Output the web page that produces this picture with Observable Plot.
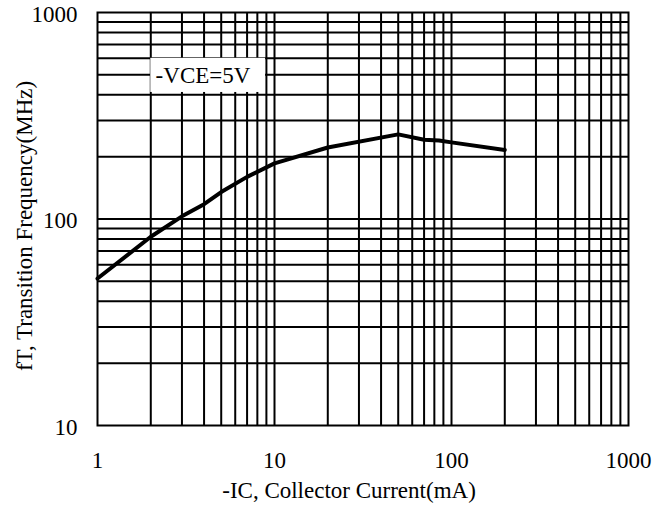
<!DOCTYPE html>
<html><head><meta charset="utf-8">
<script src="https://cdn.jsdelivr.net/npm/d3@7"></script>
<script src="https://cdn.jsdelivr.net/npm/@observablehq/plot@0.6"></script>
<style>
body{margin:0;background:#fff}
#chart svg text{font-family:'Liberation Serif','Times New Roman',serif !important;font-size:23px !important;fill:#000}
#chart svg text.vce{font-size:22px !important}
</style>
</head><body><div id="chart"></div>
<script>
const currentMA = [1, 2, 3, 4, 5, 7, 10, 20, 50, 70, 85, 100, 200];
const freqMHz   = [51.5, 82, 103, 118, 135, 160, 186, 222, 257, 242, 240, 235, 216];
const xTicks = [1, 10, 100, 1000];
const yTicks = [10, 100, 1000];
const gridX = [2,3,4,5,6,7,8,9,10,20,30,40,50,60,70,80,90,100,200,300,400,500,600,700,800,900];
const gridY = [20,30,40,50,60,70,80,90,100,200,300,400,500,600,700,800,900];
const label = ["-VCE=5V"];
const labelBox = [{x1: 2.0, x2: 8.9, y1: 410, y2: 600, tx: 2.13, ty: 495}];

const data = currentMA.map((x, i) => ({x, y: freqMHz[i]}));

const chart = Plot.plot({
  width: 664, height: 511,
  marginLeft: 97, marginRight: 36, marginTop: 12, marginBottom: 86,
  style: {fontFamily: "'Liberation Serif', serif", fontSize: "23px", color: "#000", background: "#fff"},
  x: {type: "log", domain: [1, 1000], label: null},
  y: {type: "log", domain: [10, 1000], label: null},
  marks: [
    Plot.ruleX(gridX, {stroke: "#000", strokeWidth: 2}),
    Plot.ruleY(gridY, {stroke: "#000", strokeWidth: 2}),
    Plot.rect(labelBox, {x1: "x1", x2: "x2", y1: "y1", y2: "y2", fill: "#fff"}),
    Plot.text(labelBox, {x: "tx", y: "ty", text: () => label[0], textAnchor: "start", fill: "#000", className: "vce"}),
    Plot.frame({stroke: "#000", strokeWidth: 2}),
    Plot.line(data, {x: "x", y: "y", stroke: "#000", strokeWidth: 4, strokeLinejoin: "round"}),
    Plot.axisX({ticks: xTicks, tickFormat: d => String(d), tickSize: 0, tickPadding: 26}),
    Plot.axisY({ticks: yTicks, tickFormat: d => String(d), tickSize: 0, tickPadding: 20, dy: 2}),
    Plot.text(["-IC, Collector Current(mA)"], {frameAnchor: "bottom", dx: -14, dy: 72, fill: "#000"}),
    Plot.text(["fT, Transition Frequency(MHz)"], {frameAnchor: "left", textAnchor: "middle", dx: -73, dy: 7, rotate: -90, fill: "#000"})
  ]
});
document.getElementById("chart").appendChild(chart);
</script>
</body></html>
